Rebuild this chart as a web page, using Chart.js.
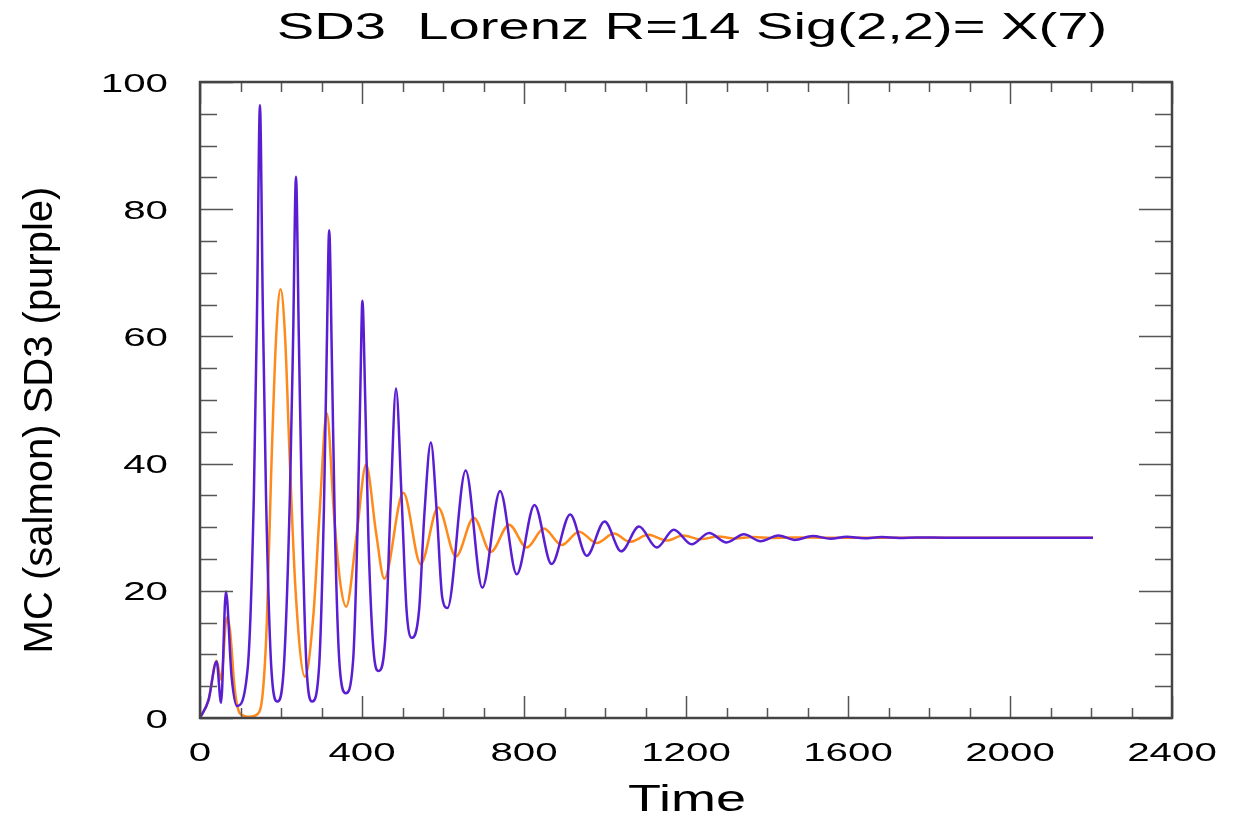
<!DOCTYPE html>
<html>
<head>
<meta charset="utf-8">
<title>SD3 Lorenz R=14</title>
<script src="https://cdn.jsdelivr.net/npm/chart.js@4"></script>
<style>
  html, body { margin: 0; padding: 0; background: #fff; }
  canvas { display: block; }
</style>
</head>
<body>
<canvas id="chart" width="1240" height="822"></canvas>
<script>
// SD3 (purple) series: peaks, troughs and a few flank points
const sd3Time = [0, 21, 41, 52, 64, 78, 91,
  118, 133, 141, 148, 155, 163, 176, 191,
  207, 222, 230, 237, 244, 252, 263, 277,
  294, 306, 313, 319, 326, 333, 345, 360,
  378, 389, 396, 401, 408, 416, 428, 441,
  458, 471, 484, 498, 510, 523,
  541, 554, 570, 585, 598, 611,
  656, 697, 741, 782, 826, 868, 914, 955, 999, 1040, 1084,
  1128, 1170, 1214, 1257, 1300, 1343, 1384, 1428, 1469, 1513, 1557, 1597, 1640,
  1683, 1727, 1770, 1850, 2205];
const sd3Value = [0, 2.8, 8.9, 2.4, 19.9, 6.5, 1.9,
  8, 35, 65, 96.4, 65, 35, 8, 2.6,
  8, 35, 60, 85.1, 60, 32, 8, 2.6,
  8, 33, 58, 76.7, 55, 30, 8, 3.9,
  9, 30, 52, 65.6, 50, 28, 11, 7.4,
  13, 34.3, 51.8, 34.3, 17, 12.6,
  17, 32, 43.3, 32, 19, 17.3,
  38.9, 20.5, 35.7, 22.6, 33.5, 24.2, 32.0, 25.5, 30.9, 26.2, 30.1,
  26.8, 29.6, 27.3, 29.1, 27.6, 28.9, 27.8, 28.7, 28.0, 28.6, 28.2, 28.5, 28.25,
  28.45, 28.3, 28.4, 28.35, 28.35];

// MC (salmon / orange) series
const mcTime = [0, 21, 41, 52, 66, 74, 86, 99, 123, 140, 155, 165, 175, 188,
  199, 210, 222, 236, 259, 280, 295, 313, 331, 346, 361, 387, 410, 435, 455,
  502, 545, 588, 632, 676, 718, 763, 807, 849, 893, 936, 980, 1022, 1062, 1107,
  1152, 1193, 1235, 1280, 1320, 1365, 1410, 1460, 1550, 2205];
const mcValue = [0, 2.8, 9.0, 6.0, 15.8, 13.8, 4.4, 0.7, 0.2, 0.5, 4, 15, 37, 60,
  67.4, 60, 40, 20, 6.5, 16.2, 31.9, 47.9, 31.9, 21.4, 17.5, 29, 39.8, 29, 21.9,
  35.4, 24.2, 33.1, 25.4, 31.5, 26.1, 30.4, 26.8, 29.8, 27.2, 29.3, 27.5, 29.0, 27.7, 28.8,
  27.9, 28.7, 28.1, 28.55, 28.2, 28.45, 28.3, 28.4, 28.35, 28.35];

const xTicks = [0, 400, 800, 1200, 1600, 2000, 2400];
const yTicks = [0, 20, 40, 60, 80, 100];
const xMinorStep = 100;
const yMinorStep = 5;

const titleText = 'SD3  Lorenz R=14 Sig(2,2)= X(7)';
const xTitle = 'Time';
const yTitle = 'MC (salmon) SD3 (purple)';

const fontFamily = '"Liberation Sans", Arial, Helvetica, sans-serif';

function toPoints(xs, ys) {
    return xs.map((x, i) => ({ x: x, y: ys[i] }));
}

// draws text stretched sideways, the original uses a wide face
function wideText(ctx, text, x, y, size, sx, align) {
    ctx.save();
    ctx.font = size + 'px ' + fontFamily;
    ctx.translate(x, y);
    ctx.scale(sx, 1);
    ctx.textAlign = align;
    ctx.textBaseline = 'alphabetic';
    ctx.fillStyle = '#000';
    ctx.fillText(text, 0, 0);
    ctx.restore();
}

const framePlugin = {
    id: 'frame',
    afterDatasetsDraw(chart) {
        const ctx = chart.ctx;
        const area = chart.chartArea;
        const xs = chart.scales.x;
        const ys = chart.scales.y;

        ctx.save();
        // tick marks on all four sides, pointing inward
        ctx.strokeStyle = '#555';
        ctx.lineWidth = 1.5;
        ctx.beginPath();
        for (let t = 0; t <= 2400; t += xMinorStep) {
            const px = Math.round(xs.getPixelForValue(t)) + 0.5;
            const len = xTicks.includes(t) ? 22 : 10;
            ctx.moveTo(px, area.bottom);
            ctx.lineTo(px, area.bottom - len);
            ctx.moveTo(px, area.top);
            ctx.lineTo(px, area.top + len);
        }
        for (let v = 0; v <= 100; v += yMinorStep) {
            const py = Math.round(ys.getPixelForValue(v)) + 0.5;
            const len = yTicks.includes(v) ? 33 : 17;
            ctx.moveTo(area.left, py);
            ctx.lineTo(area.left + len, py);
            ctx.moveTo(area.right, py);
            ctx.lineTo(area.right - len, py);
        }
        ctx.stroke();

        // box
        ctx.strokeStyle = '#444';
        ctx.lineWidth = 2.5;
        ctx.strokeRect(area.left, area.top, area.right - area.left, area.bottom - area.top);
        ctx.restore();
    },
    afterDraw(chart) {
        const ctx = chart.ctx;
        const area = chart.chartArea;
        const xs = chart.scales.x;
        const ys = chart.scales.y;
        const midX = (area.left + area.right) / 2;

        // tick labels
        xTicks.forEach(t => {
            wideText(ctx, String(t), xs.getPixelForValue(t), 761, 26, 1.55, 'center');
        });
        yTicks.forEach(v => {
            wideText(ctx, String(v), 168, ys.getPixelForValue(v) + 9.5, 26, 1.55, 'right');
        });

        // titles
        wideText(ctx, titleText, midX + 6, 39, 36, 1.56, 'center');
        wideText(ctx, xTitle, midX + 1, 811, 36, 1.5, 'center');

        ctx.save();
        ctx.translate(52, 420);
        ctx.rotate(-Math.PI / 2);
        ctx.font = '40px ' + fontFamily;
        ctx.textAlign = 'center';
        ctx.textBaseline = 'alphabetic';
        ctx.fillStyle = '#000';
        ctx.fillText(yTitle, 0, 0);
        ctx.restore();
    }
};

const ctx = document.getElementById('chart').getContext('2d');
new Chart(ctx, {
    type: 'line',
    data: {
        datasets: [
            {
                label: 'SD3',
                data: toPoints(sd3Time, sd3Value),
                borderColor: '#5a1ed2',
                borderWidth: 2.5,
                pointRadius: 0,
                fill: false,
                cubicInterpolationMode: 'monotone'
            },
            {
                label: 'MC',
                data: toPoints(mcTime, mcValue),
                borderColor: '#ff8a1c',
                borderWidth: 2.5,
                pointRadius: 0,
                fill: false,
                cubicInterpolationMode: 'monotone'
            }
        ]
    },
    options: {
        responsive: false,
        animation: false,
        devicePixelRatio: 1,
        layout: {
            padding: { left: 200, top: 82, right: 68, bottom: 104 }
        },
        plugins: {
            legend: { display: false },
            tooltip: { enabled: false },
            title: { display: false }
        },
        scales: {
            x: {
                type: 'linear',
                display: false,
                min: 0,
                max: 2400
            },
            y: {
                type: 'linear',
                display: false,
                min: 0,
                max: 100
            }
        }
    },
    plugins: [framePlugin]
});
</script>
</body>
</html>
